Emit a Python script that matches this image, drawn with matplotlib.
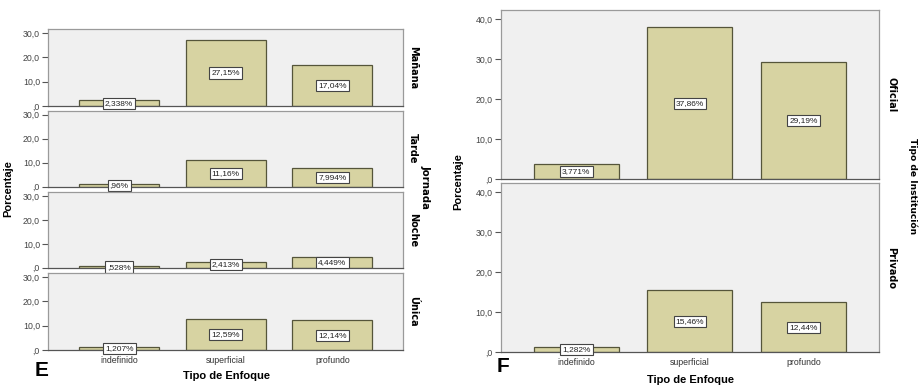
import matplotlib
matplotlib.use("Agg")
import matplotlib.pyplot as plt

# ---------------- DATA ----------------
categories = ["indefinido", "superficial", "profundo"]

jornada_names = ["Mañana", "Tarde", "Noche", "Única"]
jornada_values = [
    [2.338, 27.15, 17.04],
    [0.96, 11.16, 7.994],
    [0.528, 2.413, 4.449],
    [1.207, 12.59, 12.14],
]

institucion_names = ["Oficial", "Privado"]
institucion_values = [
    [3.771, 37.86, 29.19],
    [1.282, 15.46, 12.44],
]

left_ticks = [0, 10, 20, 30]
right_ticks = [0, 10, 20, 30, 40]
# ---------------------------------------

W, H = 921, 390
BAR = "#d7d3a2"
EDGE = "#55553a"
BG = "#f0f0f0"
FRAME = "#9a9a9a"
SANS = "Liberation Sans"

fig = plt.figure(figsize=(W / 100, H / 100), dpi=100)


def px_axes(x0, y0, x1, y1):
    # pixel box (top-left origin) -> figure axes
    return fig.add_axes([x0 / W, 1 - y1 / H, (x1 - x0) / W, (y1 - y0) / H])


def spss_num(v, dec):
    s = f"{v:.{dec}f}".replace(".", ",")
    return s[1:] if s.startswith("0") else s


def pct_label(v):
    s = f"{v:.4g}"
    if s.startswith("0"):
        s = s[1:]
    return s.replace(".", ",") + "%"


def draw_panel(ax, vals, ymax, ticks, name, show_x, strip_dx):
    xs = range(len(categories))
    ax.set_facecolor(BG)
    ax.bar(xs, vals, width=0.75, color=BAR, edgecolor=EDGE, linewidth=0.9, zorder=2)
    for x, v in zip(xs, vals):
        ax.text(x, v / 2, pct_label(v), ha="center", va="center", fontsize=6,
                family=SANS, color="#222222", zorder=4, clip_on=False,
                bbox=dict(boxstyle="square,pad=0.25", fc="white", ec="#444444", lw=0.8))
    ax.set_xlim(-0.665, 2.665)
    ax.set_ylim(0, ymax)
    ax.set_yticks(ticks)
    ax.set_yticklabels([spss_num(t, 1) for t in ticks], fontsize=6.3, family=SANS,
                       color="#444444")
    ax.tick_params(axis="y", length=4, width=0.8, color="#555555", pad=2)
    ax.set_xticks(list(xs))
    if show_x:
        ax.set_xticklabels(categories, fontsize=6.3, family=SANS, color="#333333")
        ax.tick_params(axis="x", length=0, pad=4)
    else:
        ax.set_xticklabels([])
        ax.tick_params(axis="x", length=0)
    for s in ax.spines.values():
        s.set_color(FRAME)
        s.set_linewidth(0.9)
    ax.spines["bottom"].set_color("#555555")
    ax.text(1.0 + strip_dx, 0.5, name, transform=ax.transAxes, rotation=-90,
            ha="left", va="center", fontsize=7, fontweight="bold",
            family="DejaVu Sans")


# ---- E: Jornada ----
left_x0, left_x1 = 48.3, 403.3
left_rows = [(29, 106), (110.7, 186.7), (192, 267.7), (272.7, 350)]
for i, (name, vals) in enumerate(zip(jornada_names, jornada_values)):
    y0, y1 = left_rows[i]
    ax = px_axes(left_x0, y0, left_x1, y1)
    draw_panel(ax, vals, 31.7, left_ticks, name, i == len(jornada_names) - 1,
               4.5 / (left_x1 - left_x0))

# ---- F: Tipo de Institución ----
right_x0, right_x1 = 500.7, 879
right_rows = [(10, 179.3), (183.3, 352.3)]
for i, (name, vals) in enumerate(zip(institucion_names, institucion_values)):
    y0, y1 = right_rows[i]
    ax = px_axes(right_x0, y0, right_x1, y1)
    draw_panel(ax, vals, 42.2, right_ticks, name, i == len(institucion_names) - 1,
               7 / (right_x1 - right_x0))

# ---- outer labels ----
def fig_text(x, y, s, **kw):
    fig.text(x / W, 1 - y / H, s, **kw)

fig_text(8, 189, "Porcentaje", rotation=90, ha="center", va="center",
         fontsize=8, fontweight="bold", family=SANS)
fig_text(458, 182, "Porcentaje", rotation=90, ha="center", va="center",
         fontsize=8, fontweight="bold", family=SANS)
fig_text(425, 187, "Jornada", rotation=-90, ha="center", va="center",
         fontsize=7.3, fontweight="bold", family="DejaVu Sans")
fig_text(913, 186, "Tipo de Institución", rotation=-90, ha="center", va="center",
         fontsize=6.6, fontweight="bold", family="DejaVu Sans")
fig_text(226, 376, "Tipo de Enfoque", ha="center", va="center",
         fontsize=8, fontweight="bold", family=SANS)
fig_text(690, 380, "Tipo de Enfoque", ha="center", va="center",
         fontsize=8, fontweight="bold", family=SANS)
fig_text(41.5, 371, "E", ha="center", va="center", fontsize=15, fontweight="bold",
         family=SANS)
fig_text(503, 367, "F", ha="center", va="center", fontsize=15, fontweight="bold",
         family=SANS)

fig.savefig("out.png", dpi=100, facecolor="white")
